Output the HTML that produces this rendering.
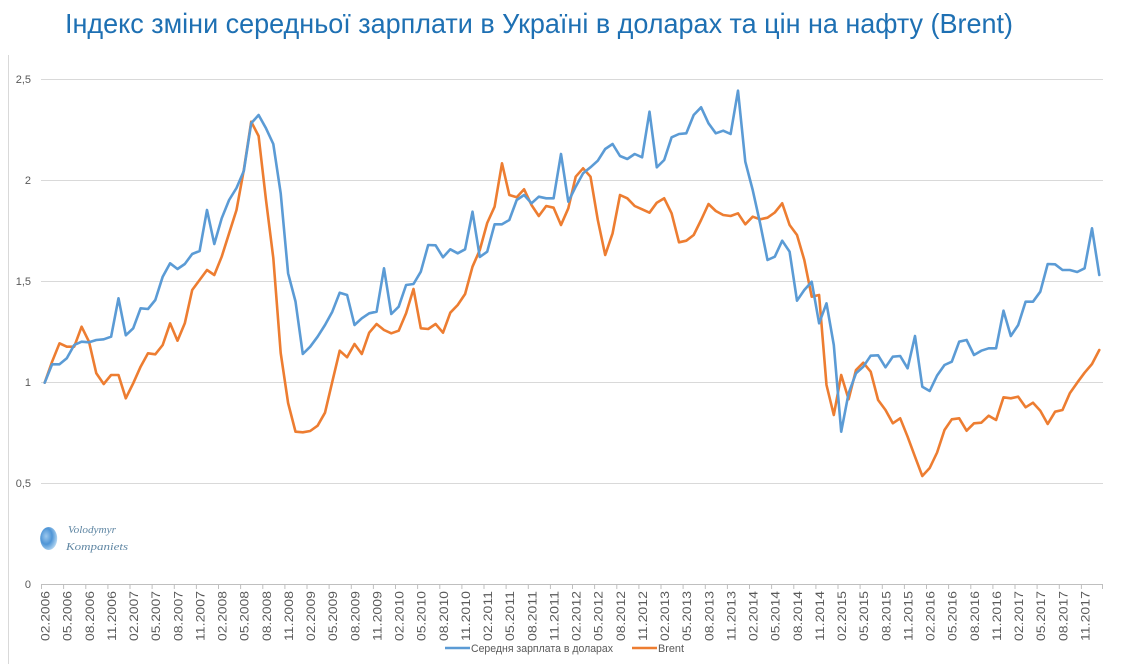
<!DOCTYPE html>
<html>
<head>
<meta charset="utf-8">
<style>
  html,body{margin:0;padding:0;background:#fff;}
  body{width:1146px;height:664px;overflow:hidden;}
  svg{display:block;}
  .yl{font-family:"Liberation Sans",sans-serif;font-size:11px;fill:#595959;}
  .xl{font-family:"Liberation Sans",sans-serif;font-size:11.5px;fill:#595959;}
</style>
</head>
<body>
<svg width="1146" height="664" viewBox="0 0 1146 664" xmlns="http://www.w3.org/2000/svg">
  <defs>
    <radialGradient id="lg" cx="0.35" cy="0.4" r="0.7">
      <stop offset="0" stop-color="#9cc8ee"/>
      <stop offset="0.5" stop-color="#4f95d6"/>
      <stop offset="1" stop-color="#bcdcf4"/>
    </radialGradient>
  </defs>
  <rect width="1146" height="664" fill="#fff"/>
  <!-- title -->
  <text x="65" y="33" font-family="'Liberation Sans',sans-serif" font-size="28" fill="#1E70B3" textLength="948" lengthAdjust="spacingAndGlyphs">Індекс зміни середньої зарплати в Україні в доларах та цін на нафту (Brent)</text>

  <!-- left border -->
  <line x1="8.5" y1="55" x2="8.5" y2="664" stroke="#d9d9d9" stroke-width="1"/>

  <!-- gridlines -->
  <g stroke="#d9d9d9" stroke-width="1">
    <line x1="41" y1="79.5" x2="1103" y2="79.5"/>
    <line x1="41" y1="180.5" x2="1103" y2="180.5"/>
    <line x1="41" y1="281.5" x2="1103" y2="281.5"/>
    <line x1="41" y1="382.5" x2="1103" y2="382.5"/>
    <line x1="41" y1="483.5" x2="1103" y2="483.5"/>
  </g>
  <line x1="41" y1="584.5" x2="1103" y2="584.5" stroke="#bfbfbf" stroke-width="1"/>
  <!-- ticks -->
  <g stroke="#bfbfbf" stroke-width="1">
    <line x1="41.5" y1="584" x2="41.5" y2="589"/><line x1="63.6" y1="584" x2="63.6" y2="589"/><line x1="85.8" y1="584" x2="85.8" y2="589"/><line x1="107.9" y1="584" x2="107.9" y2="589"/><line x1="130" y1="584" x2="130" y2="589"/><line x1="152.1" y1="584" x2="152.1" y2="589"/><line x1="174.3" y1="584" x2="174.3" y2="589"/><line x1="196.4" y1="584" x2="196.4" y2="589"/><line x1="218.5" y1="584" x2="218.5" y2="589"/><line x1="240.6" y1="584" x2="240.6" y2="589"/><line x1="262.8" y1="584" x2="262.8" y2="589"/><line x1="284.9" y1="584" x2="284.9" y2="589"/><line x1="307" y1="584" x2="307" y2="589"/><line x1="329.1" y1="584" x2="329.1" y2="589"/><line x1="351.3" y1="584" x2="351.3" y2="589"/><line x1="373.4" y1="584" x2="373.4" y2="589"/><line x1="395.5" y1="584" x2="395.5" y2="589"/><line x1="417.6" y1="584" x2="417.6" y2="589"/><line x1="439.8" y1="584" x2="439.8" y2="589"/><line x1="461.9" y1="584" x2="461.9" y2="589"/><line x1="484" y1="584" x2="484" y2="589"/><line x1="506.1" y1="584" x2="506.1" y2="589"/><line x1="528.3" y1="584" x2="528.3" y2="589"/><line x1="550.4" y1="584" x2="550.4" y2="589"/><line x1="572.5" y1="584" x2="572.5" y2="589"/><line x1="594.6" y1="584" x2="594.6" y2="589"/><line x1="616.8" y1="584" x2="616.8" y2="589"/><line x1="638.9" y1="584" x2="638.9" y2="589"/><line x1="661" y1="584" x2="661" y2="589"/><line x1="683.1" y1="584" x2="683.1" y2="589"/><line x1="705.3" y1="584" x2="705.3" y2="589"/><line x1="727.4" y1="584" x2="727.4" y2="589"/><line x1="749.5" y1="584" x2="749.5" y2="589"/><line x1="771.6" y1="584" x2="771.6" y2="589"/><line x1="793.8" y1="584" x2="793.8" y2="589"/><line x1="815.9" y1="584" x2="815.9" y2="589"/><line x1="838" y1="584" x2="838" y2="589"/><line x1="860.1" y1="584" x2="860.1" y2="589"/><line x1="882.3" y1="584" x2="882.3" y2="589"/><line x1="904.4" y1="584" x2="904.4" y2="589"/><line x1="926.5" y1="584" x2="926.5" y2="589"/><line x1="948.6" y1="584" x2="948.6" y2="589"/><line x1="970.8" y1="584" x2="970.8" y2="589"/><line x1="992.9" y1="584" x2="992.9" y2="589"/><line x1="1015" y1="584" x2="1015" y2="589"/><line x1="1037.1" y1="584" x2="1037.1" y2="589"/><line x1="1059.3" y1="584" x2="1059.3" y2="589"/><line x1="1081.4" y1="584" x2="1081.4" y2="589"/><line x1="1102.5" y1="584" x2="1102.5" y2="589"/>
  </g>

  <!-- y labels -->
  <g class="yl" text-anchor="end">
    <text x="31" y="83">2,5</text>
    <text x="31" y="184">2</text>
    <text x="31" y="285">1,5</text>
    <text x="31" y="386">1</text>
    <text x="31" y="487">0,5</text>
    <text x="31" y="588">0</text>
  </g>

  <!-- x labels -->
  <g class="xl" text-anchor="end" dominant-baseline="central">
    <text transform="translate(46.5,591) rotate(-90)" textLength="50" lengthAdjust="spacingAndGlyphs">02.2006</text>
    <text transform="translate(68.6,591) rotate(-90)" textLength="50" lengthAdjust="spacingAndGlyphs">05.2006</text>
    <text transform="translate(90.8,591) rotate(-90)" textLength="50" lengthAdjust="spacingAndGlyphs">08.2006</text>
    <text transform="translate(112.9,591) rotate(-90)" textLength="50" lengthAdjust="spacingAndGlyphs">11.2006</text>
    <text transform="translate(135,591) rotate(-90)" textLength="50" lengthAdjust="spacingAndGlyphs">02.2007</text>
    <text transform="translate(157.1,591) rotate(-90)" textLength="50" lengthAdjust="spacingAndGlyphs">05.2007</text>
    <text transform="translate(179.3,591) rotate(-90)" textLength="50" lengthAdjust="spacingAndGlyphs">08.2007</text>
    <text transform="translate(201.4,591) rotate(-90)" textLength="50" lengthAdjust="spacingAndGlyphs">11.2007</text>
    <text transform="translate(223.5,591) rotate(-90)" textLength="50" lengthAdjust="spacingAndGlyphs">02.2008</text>
    <text transform="translate(245.6,591) rotate(-90)" textLength="50" lengthAdjust="spacingAndGlyphs">05.2008</text>
    <text transform="translate(267.8,591) rotate(-90)" textLength="50" lengthAdjust="spacingAndGlyphs">08.2008</text>
    <text transform="translate(289.9,591) rotate(-90)" textLength="50" lengthAdjust="spacingAndGlyphs">11.2008</text>
    <text transform="translate(312,591) rotate(-90)" textLength="50" lengthAdjust="spacingAndGlyphs">02.2009</text>
    <text transform="translate(334.1,591) rotate(-90)" textLength="50" lengthAdjust="spacingAndGlyphs">05.2009</text>
    <text transform="translate(356.3,591) rotate(-90)" textLength="50" lengthAdjust="spacingAndGlyphs">08.2009</text>
    <text transform="translate(378.4,591) rotate(-90)" textLength="50" lengthAdjust="spacingAndGlyphs">11.2009</text>
    <text transform="translate(400.5,591) rotate(-90)" textLength="50" lengthAdjust="spacingAndGlyphs">02.2010</text>
    <text transform="translate(422.6,591) rotate(-90)" textLength="50" lengthAdjust="spacingAndGlyphs">05.2010</text>
    <text transform="translate(444.8,591) rotate(-90)" textLength="50" lengthAdjust="spacingAndGlyphs">08.2010</text>
    <text transform="translate(466.9,591) rotate(-90)" textLength="50" lengthAdjust="spacingAndGlyphs">11.2010</text>
    <text transform="translate(489,591) rotate(-90)" textLength="50" lengthAdjust="spacingAndGlyphs">02.2011</text>
    <text transform="translate(511.1,591) rotate(-90)" textLength="50" lengthAdjust="spacingAndGlyphs">05.2011</text>
    <text transform="translate(533.3,591) rotate(-90)" textLength="50" lengthAdjust="spacingAndGlyphs">08.2011</text>
    <text transform="translate(555.4,591) rotate(-90)" textLength="50" lengthAdjust="spacingAndGlyphs">11.2011</text>
    <text transform="translate(577.5,591) rotate(-90)" textLength="50" lengthAdjust="spacingAndGlyphs">02.2012</text>
    <text transform="translate(599.6,591) rotate(-90)" textLength="50" lengthAdjust="spacingAndGlyphs">05.2012</text>
    <text transform="translate(621.8,591) rotate(-90)" textLength="50" lengthAdjust="spacingAndGlyphs">08.2012</text>
    <text transform="translate(643.9,591) rotate(-90)" textLength="50" lengthAdjust="spacingAndGlyphs">11.2012</text>
    <text transform="translate(666,591) rotate(-90)" textLength="50" lengthAdjust="spacingAndGlyphs">02.2013</text>
    <text transform="translate(688.1,591) rotate(-90)" textLength="50" lengthAdjust="spacingAndGlyphs">05.2013</text>
    <text transform="translate(710.3,591) rotate(-90)" textLength="50" lengthAdjust="spacingAndGlyphs">08.2013</text>
    <text transform="translate(732.4,591) rotate(-90)" textLength="50" lengthAdjust="spacingAndGlyphs">11.2013</text>
    <text transform="translate(754.5,591) rotate(-90)" textLength="50" lengthAdjust="spacingAndGlyphs">02.2014</text>
    <text transform="translate(776.6,591) rotate(-90)" textLength="50" lengthAdjust="spacingAndGlyphs">05.2014</text>
    <text transform="translate(798.8,591) rotate(-90)" textLength="50" lengthAdjust="spacingAndGlyphs">08.2014</text>
    <text transform="translate(820.9,591) rotate(-90)" textLength="50" lengthAdjust="spacingAndGlyphs">11.2014</text>
    <text transform="translate(843,591) rotate(-90)" textLength="50" lengthAdjust="spacingAndGlyphs">02.2015</text>
    <text transform="translate(865.1,591) rotate(-90)" textLength="50" lengthAdjust="spacingAndGlyphs">05.2015</text>
    <text transform="translate(887.3,591) rotate(-90)" textLength="50" lengthAdjust="spacingAndGlyphs">08.2015</text>
    <text transform="translate(909.4,591) rotate(-90)" textLength="50" lengthAdjust="spacingAndGlyphs">11.2015</text>
    <text transform="translate(931.5,591) rotate(-90)" textLength="50" lengthAdjust="spacingAndGlyphs">02.2016</text>
    <text transform="translate(953.6,591) rotate(-90)" textLength="50" lengthAdjust="spacingAndGlyphs">05.2016</text>
    <text transform="translate(975.8,591) rotate(-90)" textLength="50" lengthAdjust="spacingAndGlyphs">08.2016</text>
    <text transform="translate(997.9,591) rotate(-90)" textLength="50" lengthAdjust="spacingAndGlyphs">11.2016</text>
    <text transform="translate(1020,591) rotate(-90)" textLength="50" lengthAdjust="spacingAndGlyphs">02.2017</text>
    <text transform="translate(1042.1,591) rotate(-90)" textLength="50" lengthAdjust="spacingAndGlyphs">05.2017</text>
    <text transform="translate(1064.3,591) rotate(-90)" textLength="50" lengthAdjust="spacingAndGlyphs">08.2017</text>
    <text transform="translate(1086.4,591) rotate(-90)" textLength="50" lengthAdjust="spacingAndGlyphs">11.2017</text>
  </g>

  <!-- logo -->
  <ellipse cx="48.7" cy="538.5" rx="8.5" ry="11.5" fill="url(#lg)"/>
  <text x="68" y="533" font-family="'Liberation Serif',serif" font-style="italic" font-size="10" fill="#5f86a3" textLength="48" lengthAdjust="spacingAndGlyphs">Volodymyr</text>
  <text x="66" y="550" font-family="'Liberation Serif',serif" font-style="italic" font-size="10" fill="#5f86a3" textLength="62" lengthAdjust="spacingAndGlyphs">Kompaniets</text>

  <!-- Brent (orange) -->
  <polyline fill="none" stroke="#ED7D31" stroke-width="2.6" stroke-linejoin="round" stroke-linecap="round" points="44.7,382.7 52.1,361.7 59.5,343.3 66.8,346.7 74.2,346.7 81.6,326.7 89.0,341.7 96.3,373.3 103.7,384 111.1,375 118.5,375 125.8,398.3 133.2,383.3 140.6,366.7 148.0,353.3 155.3,354.3 162.7,345 170.1,323.3 177.5,340.7 184.8,323.3 192.2,290 199.6,280 207.0,270 214.3,275 221.7,256.7 229.1,233.3 236.5,210 243.8,170 251.2,121.7 258.6,136 266.0,200 273.3,258 280.7,353 288.1,403 295.5,431.7 302.8,432.3 310.2,431 317.6,425.7 325.0,412.7 332.3,381.7 339.7,350.7 347.1,357.3 354.5,344 361.8,354 369.2,332.7 376.6,324 384.0,330 391.3,333.3 398.7,330.7 406.1,313.3 413.5,289 420.8,328.3 428.2,329 435.6,324 443.0,332.7 450.3,312.7 457.7,305 465.1,294 472.5,266.7 479.8,250 487.2,223 494.6,206.7 502.0,163.3 509.3,195 516.7,197.3 524.1,189.3 531.5,205 538.8,216 546.2,206 553.6,207.7 561.0,225 568.3,208.3 575.7,176.7 583.1,168.3 590.5,176.7 597.8,220 605.2,255 612.6,233.3 620.0,195 627.3,198.3 634.7,206 642.1,209.3 649.5,212.7 656.8,202.7 664.2,198.3 671.6,213.3 679.0,242.3 686.3,240.7 693.7,235 701.1,220 708.5,204 715.8,211 723.2,215 730.6,216 738.0,213.3 745.3,224.3 752.7,216.7 760.1,219.3 767.5,217.7 774.8,212.5 782.2,203.3 789.6,225 797.0,235 804.3,260 811.7,296.7 819.1,295 826.5,385 833.8,415 841.2,375 848.6,399.3 856.0,370 863.3,362.7 870.7,371.7 878.1,400 885.5,410 892.8,423.3 900.2,418.3 907.6,436.7 915.0,456.7 922.3,476 929.7,468 937.1,452.5 944.5,430 951.8,419.3 959.2,418.3 966.6,430.7 974.0,423.3 981.3,422.7 988.7,415.7 996.1,420 1003.5,397.3 1010.8,398.3 1018.2,396.7 1025.6,407.3 1033.0,402.7 1040.3,410.7 1047.7,424 1055.1,411.7 1062.5,410 1069.8,393.3 1077.2,382.7 1084.6,372.7 1092.0,364 1099.3,350"/>

  <!-- Wages (blue) -->
  <polyline fill="none" stroke="#5B9BD5" stroke-width="2.6" stroke-linejoin="round" stroke-linecap="round" points="44.7,382.7 52.1,364.3 59.5,364.3 66.8,358.3 74.2,345 81.6,341.7 89.0,342.3 96.3,340 103.7,339.3 111.1,336.7 118.5,298.3 125.8,335.3 133.2,328.3 140.6,308.3 148.0,309 155.3,300 162.7,276.7 170.1,263.3 177.5,269 184.8,264 192.2,254 199.6,251 207.0,210 214.3,244 221.7,218.3 229.1,200 236.5,188 243.8,171 251.2,123.3 258.6,115 266.0,128.3 273.3,144 280.7,193.3 288.1,273.3 295.5,301.5 302.8,354 310.2,346.7 317.6,336.7 325.0,325 332.3,311.7 339.7,292.7 347.1,295 354.5,325 361.8,318.3 369.2,313.3 376.6,311.7 384.0,268.3 391.3,314 398.7,306.7 406.1,285 413.5,284 420.8,271.7 428.2,245 435.6,245.3 443.0,257.3 450.3,249.3 457.7,253.3 465.1,249.3 472.5,211.7 479.8,257 487.2,251.7 494.6,224.3 502.0,224.3 509.3,220 516.7,200 524.1,195 531.5,203.3 538.8,196.7 546.2,198.3 553.6,198.3 561.0,154 568.3,201.7 575.7,186.7 583.1,173.3 590.5,167.3 597.8,160.7 605.2,149 612.6,144 620.0,156 627.3,159 634.7,154 642.1,157.3 649.5,111.7 656.8,167.3 664.2,160 671.6,137.3 679.0,134 686.3,133.3 693.7,115 701.1,107.3 708.5,123.3 715.8,133.3 723.2,130.7 730.6,134 738.0,90.7 745.3,161.7 752.7,190 760.1,223.3 767.5,260 774.8,256.7 782.2,240.7 789.6,251.7 797.0,300.7 804.3,290 811.7,281.7 819.1,323.3 826.5,303.3 833.8,345 841.2,431.7 848.6,393.3 856.0,373.3 863.3,366.7 870.7,355.7 878.1,355.3 885.5,367.3 892.8,356.7 900.2,356 907.6,368.3 915.0,336 922.3,386.7 929.7,391 937.1,375.5 944.5,365 951.8,361.7 959.2,341.7 966.6,340 974.0,355 981.3,350.7 988.7,348.3 996.1,348.3 1003.5,310.7 1010.8,336 1018.2,325 1025.6,301.7 1033.0,301.7 1040.3,291.7 1047.7,264 1055.1,264.3 1062.5,270 1069.8,270 1077.2,272 1084.6,268.3 1092.0,228.3 1099.3,275"/>

  <!-- legend -->
  <line x1="445" y1="648" x2="470" y2="648" stroke="#5B9BD5" stroke-width="2.6"/>
  <text x="471" y="652" font-family="'Liberation Sans',sans-serif" font-size="11" fill="#595959" textLength="142" lengthAdjust="spacingAndGlyphs">Середня зарплата в доларах</text>
  <line x1="632" y1="648" x2="657" y2="648" stroke="#ED7D31" stroke-width="2.6"/>
  <text x="658" y="652" font-family="'Liberation Sans',sans-serif" font-size="11" fill="#595959" textLength="26" lengthAdjust="spacingAndGlyphs">Brent</text>
</svg>
</body>
</html>
